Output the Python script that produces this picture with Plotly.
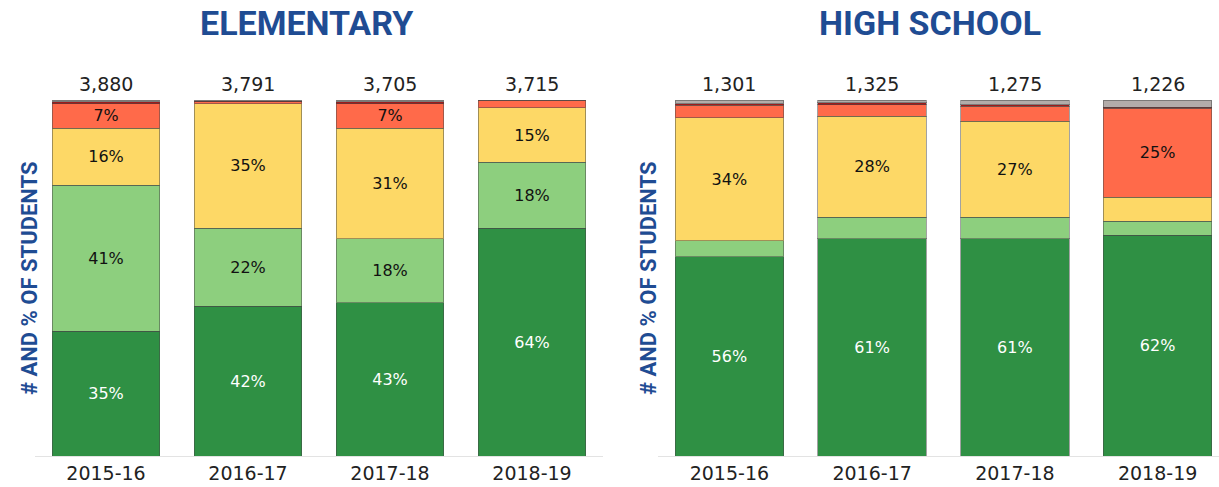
"""
Student counts by performance band, elementary vs high school
"""

import plotly.graph_objects as go

# ---- data (percent of students per band) ----
years = ["2015-16", "2016-17", "2017-18", "2018-19"]

elem_totals = [3880, 3791, 3705, 3715]
elem_dark_green = [35, 42, 43, 64]
elem_light_green = [41, 22, 18, 18.5]
elem_yellow = [16, 35, 31, 15.3]
elem_red = [7, 0.5, 7, 2.2]
elem_dark_red = [0.5, 0.2, 0.5, 0.0]
elem_gray = [0.5, 0.3, 0.5, 0.4]

elem_dark_green_lbl = ["35%", "42%", "43%", "64%"]
elem_light_green_lbl = ["41%", "22%", "18%", "18%"]
elem_yellow_lbl = ["16%", "35%", "31%", "15%"]
elem_red_lbl = ["7%", "", "7%", ""]

hs_totals = [1301, 1325, 1275, 1226]
hs_dark_green = [56, 61, 61, 62]
hs_light_green = [4.5, 6, 6, 4]
hs_yellow = [34.5, 28.5, 27, 6.7]
hs_red = [3.5, 3.2, 4.3, 25]
hs_dark_red = [0.5, 0.5, 0.3, 0.3]
hs_gray = [1.0, 0.8, 1.4, 2.0]

hs_dark_green_lbl = ["56%", "61%", "61%", "62%"]
hs_light_green_lbl = ["", "", "", ""]
hs_yellow_lbl = ["34%", "28%", "27%", ""]
hs_red_lbl = ["", "", "", "25%"]

# colours
C_DARK_GREEN = "#2f9044"
C_LIGHT_GREEN = "#8dcf7e"
C_YELLOW = "#fdd866"
C_RED = "#ff6a4a"
C_DARK_RED = "#9c1c1c"
C_GRAY = "#b3aca9"
BLUE = "#1f4c93"
OUTLINE = "rgba(70,70,70,0.5)"

TITLE_FONT = "Roboto, Liberation Sans, sans-serif"
BODY = "DejaVu Sans, sans-serif"


def add_stack(fig, xaxis, yaxis, series):
    """series: list of (values, labels, colour, text colour)"""
    for values, labels, colour, tcolor in series:
        fig.add_trace(go.Bar(
            x=years,
            y=values,
            text=labels,
            textposition="inside",
            insidetextanchor="middle",
            textangle=0,
            textfont=dict(family=BODY, size=16, color=tcolor),
            marker=dict(color=colour, line=dict(color=OUTLINE, width=1)),
            xaxis=xaxis,
            yaxis=yaxis,
            showlegend=False,
            hoverinfo="skip",
        ))


fig = go.Figure()

add_stack(fig, "x", "y", [
    (elem_dark_green, elem_dark_green_lbl, C_DARK_GREEN, "white"),
    (elem_light_green, elem_light_green_lbl, C_LIGHT_GREEN, "#111"),
    (elem_yellow, elem_yellow_lbl, C_YELLOW, "#111"),
    (elem_red, elem_red_lbl, C_RED, "#111"),
    (elem_dark_red, None, C_DARK_RED, "#111"),
    (elem_gray, None, C_GRAY, "#111"),
])

add_stack(fig, "x2", "y2", [
    (hs_dark_green, hs_dark_green_lbl, C_DARK_GREEN, "white"),
    (hs_light_green, hs_light_green_lbl, C_LIGHT_GREEN, "#111"),
    (hs_yellow, hs_yellow_lbl, C_YELLOW, "#111"),
    (hs_red, hs_red_lbl, C_RED, "#111"),
    (hs_dark_red, None, C_DARK_RED, "#111"),
    (hs_gray, None, C_GRAY, "#111"),
])

annotations = []
# totals above each bar
for xref, yref, totals in (("x", "y", elem_totals), ("x2", "y2", hs_totals)):
    for yr, tot in zip(years, totals):
        annotations.append(dict(
            x=yr, y=100, xref=xref, yref=yref,
            text=f"{tot:,}", showarrow=False,
            xanchor="center", yanchor="bottom", yshift=3,
            font=dict(family=BODY, size=19, color="#222"),
        ))

# panel titles
for x, txt in ((306 / 1219, "ELEMENTARY"), (930 / 1219, "HIGH SCHOOL")):
    annotations.append(dict(
        x=x, y=1, xref="paper", yref="paper",
        xanchor="center", yanchor="middle", yshift=77,
        text=f"<b>{txt}</b>", showarrow=False,
        font=dict(family=TITLE_FONT, size=34, color=BLUE),
    ))

# y axis titles
for x in (29 / 1219, 648 / 1219):
    annotations.append(dict(
        x=x, y=0.5, xref="paper", yref="paper",
        xanchor="center", yanchor="middle",
        text="<b># AND % OF STUDENTS</b>", textangle=-90, showarrow=False,
        font=dict(family=TITLE_FONT, size=22, color=BLUE),
    ))

axis_common = dict(
    showgrid=False, zeroline=False, ticks="",
    showline=True, linecolor="#e3e3e3", linewidth=1,
    tickfont=dict(family=BODY, size=19, color="#222"),
)

fig.update_layout(
    width=1219,
    height=487,
    margin=dict(l=0, r=0, t=100, b=31),
    paper_bgcolor="white",
    plot_bgcolor="white",
    barmode="stack",
    bargap=0.24,
    annotations=annotations,
    xaxis=dict(domain=[35 / 1219, 603 / 1219], range=[-0.5, 3.5], **axis_common),
    xaxis2=dict(domain=[658 / 1219, 1.0], range=[-0.5, 3.43], anchor="y2", **axis_common),
    yaxis=dict(range=[0, 100], visible=False),
    yaxis2=dict(range=[0, 100], visible=False, anchor="x2"),
)
fig.update_traces(cliponaxis=False)

# drop the default page margin so the figure sits at the window's corner
fig.write_html(
    "out.html",
    config={"displayModeBar": False},
    post_script="document.body.style.margin = '0';",
)
